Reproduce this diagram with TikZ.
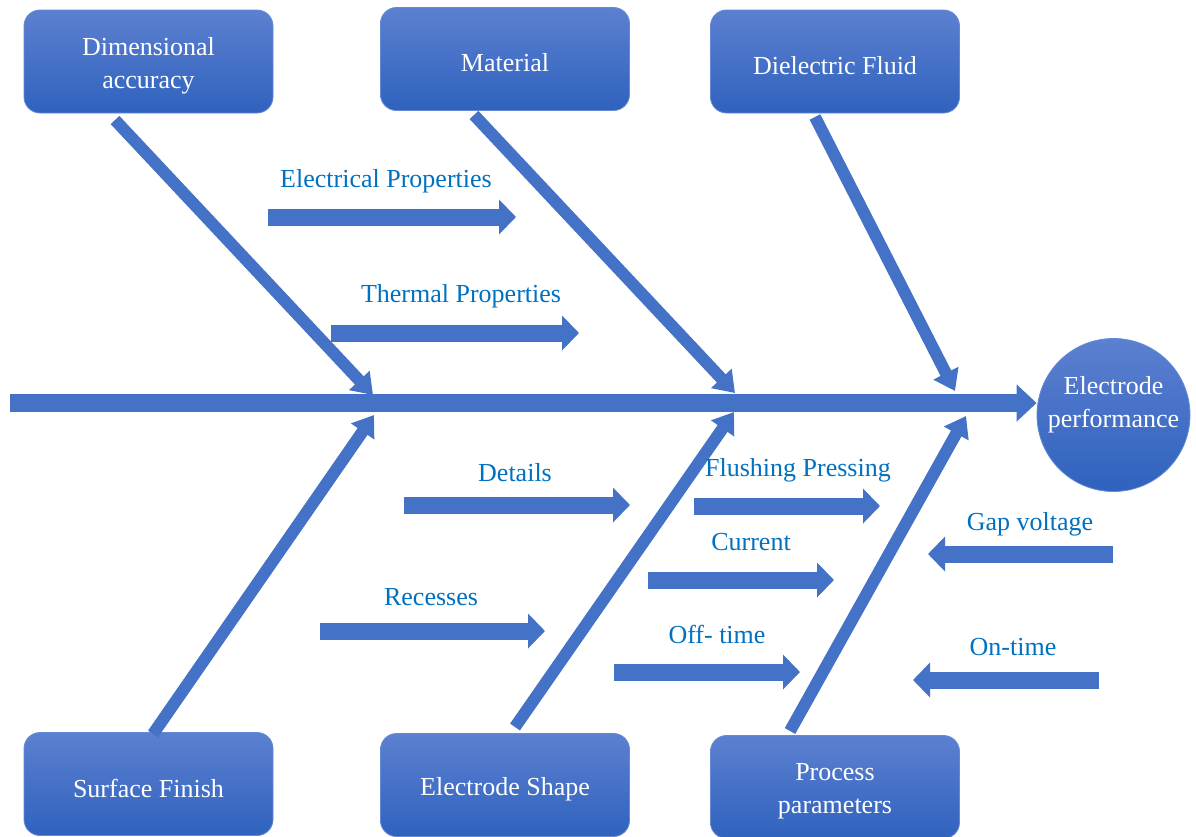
\documentclass[tikz,border=0pt]{standalone}
\usepackage{fontspec}
\setmainfont{Liberation Serif}
\usetikzlibrary{arrows.meta}
\definecolor{boxtop}{RGB}{92,128,208}
\definecolor{boxbot}{RGB}{47,98,190}
\definecolor{boxline}{RGB}{100,138,214}
\definecolor{arr}{RGB}{68,114,198}
\definecolor{lbl}{RGB}{0,112,192}
\begin{document}
\begin{tikzpicture}[x=1pt,y=-1pt,
  cause/.style={draw=boxline,line width=0.8pt,rounded corners=16pt,top color=boxtop,bottom color=boxbot,
    minimum width=249pt,minimum height=103pt,
    label={[ctext]center:{#1}}},
  ctext/.style={text=white,align=center,yshift=-4pt,font=\fontsize{26}{33}\selectfont},
  lab/.style={text=lbl,anchor=base,font=\fontsize{26}{30}\selectfont,inner sep=0pt},
  bone/.style={draw=arr,line width=12pt,-{Triangle[width=27pt,length=20pt]}},
  blockarr/.style={draw=arr,line width=17pt,-{Triangle[width=34pt,length=17pt]}},
  spine/.style={draw=arr,line width=18pt,-{Triangle[width=36pt,length=20pt]}}]
\useasboundingbox (0,0) rectangle (1196,836);
\clip (0,0) rectangle (1196,836);

% cause boxes
\node[cause={Dimensional\\accuracy}] (dim) at (148.5,61.5) {};
\node[cause={Material}] (mat) at (505,59) {};
\node[cause={Dielectric Fluid}] (diel) at (835,61.5) {};
\node[cause={Surface Finish}] (surf) at (148.5,784) {};
\node[cause={Electrode Shape}] (shape) at (505,785) {};
\node[cause={Process\\parameters}] (proc) at (835,787) {};

% effect
\node[circle,draw=boxline,line width=0.8pt,top color=boxtop,bottom color=boxbot,minimum size=153pt,inner sep=0pt,
  label={[text=white,align=center,font=\fontsize{26}{33}\selectfont,yshift=10pt]center:{Electrode\\performance}}]
  (perf) at (1113.5,415) {};

% spine
\coordinate (tail) at (10,403);
\draw[spine] (tail) -- (perf.west |- tail);

% bone coordinates
\coordinate (d1) at (115,120);  \coordinate (d2) at (373,395);
\coordinate (m1) at (474,115);  \coordinate (m2) at (735,393);
\coordinate (f1) at (815,117);  \coordinate (f2) at (955,391);
\coordinate (s1) at (153,734);  \coordinate (s2) at (374,415);
\coordinate (e1) at (515,727);  \coordinate (e2) at (734,412);
\coordinate (p1) at (790,731);  \coordinate (p2) at (966,416);
\draw[bone] (d1) -- (d2);
\draw[bone] (m1) -- (m2);
\draw[bone] (f1) -- (f2);
\draw[bone] (s1) -- (s2);
\draw[bone] (e1) -- (e2);
\draw[bone] (p1) -- (p2);

% sub-cause arrows
\coordinate (ep1) at (268,217); \coordinate (ep2) at (516,217);
\coordinate (tp1) at (331,333); \coordinate (tp2) at (579,333);
\coordinate (dt1) at (404,505); \coordinate (dt2) at (630,505);
\coordinate (rc1) at (320,631); \coordinate (rc2) at (545,631);
\coordinate (fp1) at (694,506); \coordinate (fp2) at (880,506);
\coordinate (cu1) at (648,580); \coordinate (cu2) at (834,580);
\coordinate (ot1) at (614,672); \coordinate (ot2) at (800,672);
\coordinate (gv1) at (1113,554); \coordinate (gv2) at (928,554);
\coordinate (on1) at (1099,680); \coordinate (on2) at (913,680);
\draw[blockarr] (ep1) -- (ep2);
\draw[blockarr] (tp1) -- (tp2);
\draw[blockarr] (dt1) -- (dt2);
\draw[blockarr] (rc1) -- (rc2);
\draw[blockarr] (fp1) -- (fp2);
\draw[blockarr] (cu1) -- (cu2);
\draw[blockarr] (ot1) -- (ot2);
\draw[blockarr] (gv1) -- (gv2);
\draw[blockarr] (on1) -- (on2);

% labels
\node[lab] (lep) at (386,187) {Electrical Properties};
\node[lab] (ltp) at (461,302) {Thermal Properties};
\node[lab] (ldt) at (515,481) {Details};
\node[lab] (lrc) at (431,605) {Recesses};
\node[lab] (lfp) at (798,476) {Flushing Pressing};
\node[lab] (lcu) at (751,550) {Current};
\node[lab] (lot) at (717,643) {Off- time};
\node[lab] (lgv) at (1030,530) {Gap voltage};
\node[lab] (lon) at (1013,655) {On-time};
\end{tikzpicture}
\end{document}
